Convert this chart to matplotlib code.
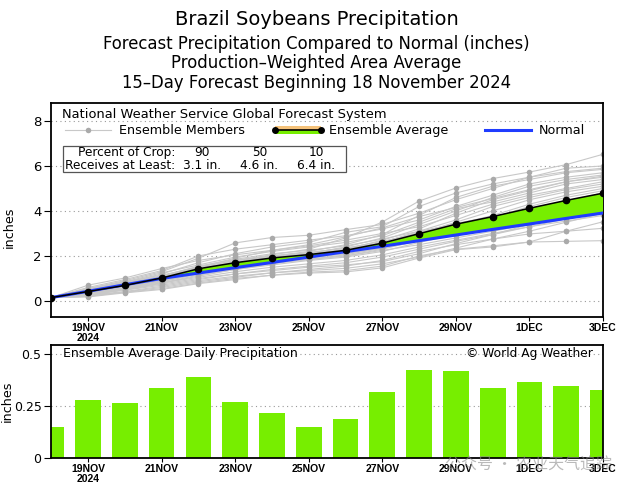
import matplotlib
matplotlib.use("Agg")
import matplotlib.pyplot as plt
import numpy as np
from matplotlib.lines import Line2D
from matplotlib.patches import Rectangle
from matplotlib.legend_handler import HandlerBase

# ---- data ----
days = list(range(16))  # 18NOV .. 3DEC
tick_days = [1, 3, 5, 7, 9, 11, 13, 15]
tick_labels = ["19NOV\n2024", "21NOV", "23NOV", "25NOV", "27NOV", "29NOV", "1DEC", "3DEC"]

ens_avg = [0.15, 0.42, 0.69, 1.02, 1.43, 1.70, 1.91, 2.06,
           2.25, 2.57, 2.99, 3.41, 3.75, 4.12, 4.47, 4.79]
normal = [0.15, 0.43, 0.72, 1.00, 1.24, 1.48, 1.71, 1.95,
          2.19, 2.43, 2.68, 2.93, 3.18, 3.42, 3.67, 3.91]
daily_avg = [0.147, 0.277, 0.265, 0.339, 0.389, 0.270, 0.217, 0.148,
             0.187, 0.319, 0.422, 0.419, 0.339, 0.366, 0.345, 0.329]

members = [
    [0.15, 0.45, 0.75, 1.10, 1.50, 1.80, 2.05, 2.30, 2.80, 3.51, 4.44, 5.02, 5.44, 5.73, 6.06, 6.52],
    [0.15, 0.55, 0.90, 1.30, 1.90, 2.58, 2.82, 2.92, 3.17, 3.40, 3.90, 4.50, 5.00, 5.50, 5.90, 6.00],
    [0.15, 0.50, 0.80, 1.20, 1.70, 2.10, 2.40, 2.60, 3.05, 3.30, 4.20, 4.80, 5.20, 5.50, 5.75, 5.90],
    [0.15, 0.40, 0.70, 1.05, 1.40, 1.75, 2.00, 2.20, 2.50, 2.95, 3.80, 4.60, 5.10, 5.40, 5.70, 5.85],
    [0.15, 0.60, 0.95, 1.35, 2.00, 2.30, 2.50, 2.70, 2.90, 3.20, 3.60, 4.20, 4.70, 5.20, 5.50, 5.70],
    [0.15, 0.45, 0.72, 1.00, 1.30, 1.60, 1.90, 2.10, 2.40, 2.80, 3.40, 4.00, 4.60, 5.10, 5.40, 5.60],
    [0.15, 0.35, 0.60, 0.90, 1.25, 1.55, 1.80, 2.00, 2.30, 2.70, 3.20, 3.90, 4.50, 4.90, 5.30, 5.50],
    [0.15, 0.50, 0.85, 1.25, 1.60, 1.95, 2.20, 2.40, 2.60, 2.90, 3.50, 4.10, 4.40, 4.80, 5.20, 5.40],
    [0.15, 0.70, 1.02, 1.44, 1.80, 2.05, 2.25, 2.45, 2.70, 3.00, 3.30, 3.80, 4.30, 4.70, 5.00, 5.30],
    [0.15, 0.30, 0.55, 0.85, 1.20, 1.50, 1.70, 1.90, 2.20, 2.60, 3.10, 3.60, 4.20, 4.60, 4.95, 5.20],
    [0.15, 0.42, 0.68, 1.00, 1.45, 1.70, 1.95, 2.15, 2.35, 2.65, 3.00, 3.50, 4.00, 4.50, 4.85, 5.10],
    [0.15, 0.48, 0.78, 1.10, 1.55, 1.85, 2.10, 2.25, 2.45, 2.75, 3.10, 3.40, 3.80, 4.30, 4.70, 5.00],
    [0.15, 0.38, 0.62, 0.95, 1.35, 1.65, 1.85, 2.00, 2.20, 2.50, 2.90, 3.30, 3.70, 4.20, 4.60, 4.90],
    [0.15, 0.45, 0.75, 1.05, 1.40, 1.70, 1.92, 2.08, 2.30, 2.60, 3.05, 3.45, 3.75, 4.10, 4.45, 4.80],
    [0.15, 0.25, 0.50, 0.80, 1.10, 1.40, 1.65, 1.85, 2.05, 2.35, 2.80, 3.25, 3.60, 4.00, 4.35, 4.70],
    [0.15, 0.55, 0.85, 1.15, 1.50, 1.80, 2.00, 2.15, 2.35, 2.55, 2.85, 3.20, 3.50, 3.90, 4.25, 4.60],
    [0.15, 0.40, 0.65, 0.95, 1.30, 1.55, 1.75, 1.90, 2.10, 2.40, 2.75, 3.10, 3.45, 3.80, 4.15, 4.50],
    [0.15, 0.35, 0.58, 0.88, 1.20, 1.45, 1.70, 1.85, 2.00, 2.30, 2.70, 3.00, 3.35, 3.70, 4.05, 4.40],
    [0.15, 0.50, 0.80, 1.10, 1.45, 1.75, 1.95, 2.10, 2.25, 2.50, 2.80, 3.10, 3.30, 3.60, 3.95, 4.30],
    [0.15, 0.30, 0.52, 0.80, 1.15, 1.40, 1.60, 1.80, 1.95, 2.20, 2.60, 2.95, 3.25, 3.55, 3.90, 4.20],
    [0.15, 0.45, 0.70, 1.00, 1.35, 1.60, 1.80, 1.95, 2.10, 2.35, 2.65, 2.95, 3.20, 3.50, 3.80, 4.10],
    [0.15, 0.40, 0.62, 0.90, 1.25, 1.50, 1.70, 1.85, 2.00, 2.25, 2.50, 2.80, 3.10, 3.40, 3.70, 3.95],
    [0.15, 0.35, 0.55, 0.80, 1.05, 1.30, 1.50, 1.65, 1.80, 2.05, 2.40, 2.70, 3.00, 3.30, 3.55, 3.80],
    [0.15, 0.28, 0.48, 0.70, 0.95, 1.20, 1.40, 1.55, 1.70, 1.95, 2.30, 2.65, 2.95, 3.30, 3.65, 4.05],
    [0.15, 0.20, 0.40, 0.60, 0.85, 1.05, 1.25, 1.40, 1.55, 1.80, 2.20, 2.50, 2.75, 2.98, 3.10, 3.23],
    [0.15, 0.32, 0.50, 0.75, 1.00, 1.20, 1.35, 1.50, 1.60, 1.75, 2.10, 2.55, 2.95, 3.40, 3.85, 4.25],
    [0.15, 0.25, 0.42, 0.65, 0.90, 1.10, 1.25, 1.35, 1.45, 1.65, 1.95, 2.35, 2.75, 3.10, 3.50, 3.90],
    [0.15, 0.22, 0.38, 0.55, 0.80, 1.00, 1.14, 1.24, 1.29, 1.47, 1.91, 2.28, 2.40, 2.62, 2.65, 2.68],
    [0.15, 0.18, 0.36, 0.51, 0.77, 0.95, 1.15, 1.28, 1.35, 1.55, 2.00, 2.30, 2.45, 2.62, 3.10, 3.52],
    [0.15, 0.42, 0.72, 1.05, 1.50, 1.90, 2.25, 2.50, 2.85, 3.25, 3.75, 4.15, 4.55, 4.95, 5.30, 5.55],
]

crop_pct = ["90", "50", "10"]
crop_amt = ["3.1 in.", "4.6 in.", "6.4 in."]

GREEN = "#77ee00"
ORANGE = "#f5c27a"
LINE_GRAY = "#c8c8c8"
DOT_GRAY = "#aaaaaa"
BLUE = "#1f3cff"

plt.rcParams["font.family"] = ["DejaVu Sans"]
tick_font = {"family": ["Liberation Sans Narrow", "Liberation Sans", "DejaVu Sans"],
             "weight": "bold", "size": 7.5}


class HandlerEnsAvg(HandlerBase):
    """orange/green band with a black dotted line through the middle"""

    def create_artists(self, legend, orig_handle, xdescent, ydescent,
                       width, height, fontsize, trans):
        x0, y0 = -xdescent, -ydescent
        mid = y0 + height / 2
        top = Rectangle((x0, mid), width, height / 2, facecolor=ORANGE,
                        edgecolor="none", transform=trans)
        bot = Rectangle((x0, y0), width, height / 2, facecolor=GREEN,
                        edgecolor="none", transform=trans)
        line = Line2D([x0, x0 + width], [mid, mid], color="black", lw=1.2,
                      marker="o", ms=4, transform=trans)
        return [top, bot, line]


fig = plt.figure(figsize=(6.33, 4.92), dpi=100)
ax = fig.add_axes([0.081, 0.3563, 0.8716, 0.4344])
ax2 = fig.add_axes([0.081, 0.0697, 0.8716, 0.2297])

# titles
fig.text(0.5, 0.961, "Brazil Soybeans Precipitation", ha="center", va="center", fontsize=14)
fig.text(0.5, 0.9106, "Forecast Precipitation Compared to Normal (inches)", ha="center", va="center", fontsize=11.9)
fig.text(0.5, 0.872, "Production\u2013Weighted Area Average", ha="center", va="center", fontsize=11.9)
fig.text(0.5, 0.831, "15\u2013Day Forecast Beginning 18 November 2024", ha="center", va="center", fontsize=11.9)

# ---- top panel: cumulative precipitation ----
for m in members:
    ax.plot(days, m, color=LINE_GRAY, lw=0.8, marker="o", ms=4, mfc=DOT_GRAY, mec="none", zorder=2)

ens = np.array(ens_avg)
nrm = np.array(normal)
ax.fill_between(days, nrm, ens, where=ens >= nrm, interpolate=True, color=GREEN, lw=0, zorder=3)
ax.fill_between(days, nrm, ens, where=ens < nrm, interpolate=True, color=ORANGE, lw=0, zorder=3)
ax.plot(days, normal, color=BLUE, lw=2.2, zorder=4)
ax.plot(days, ens_avg, color="black", lw=1.1, marker="o", ms=4.5, zorder=5)

ax.set_xlim(0, 15)
ax.set_ylim(-0.7, 8.8)
ax.set_yticks([0, 2, 4, 6, 8])
ax.grid(axis="y", color="#999999", linestyle=(0, (1, 3)), lw=0.8)
ax.set_xticks(tick_days)
ax.set_xticklabels(tick_labels, fontdict=tick_font, linespacing=0.95)
ax.tick_params(axis="y", labelsize=9.5, length=5, direction="out", pad=2)
ax.tick_params(axis="x", length=3, direction="out", pad=1.5)
ax.set_ylabel("inches", fontsize=9.2)
ax.yaxis.set_label_coords(-0.064, 0.42)
for s in ax.spines.values():
    s.set_linewidth(1.3)

# legend
ax.text(0.0195, 0.944, "National Weather Service Global Forecast System",
        transform=ax.transAxes, ha="left", va="center", fontsize=9.4)
leg_kw = dict(loc="center left", frameon=False, fontsize=9.2, borderpad=0,
              borderaxespad=0, handlelength=3.6, handletextpad=0.6)
h_mem = Line2D([], [], color=LINE_GRAY, lw=0.8, marker="o", ms=4, mfc=DOT_GRAY, mec="none")
h_avg = Line2D([], [], color="black")
h_nrm = Line2D([], [], color=BLUE, lw=2.2)
leg1 = ax.legend([h_mem], ["Ensemble Members"], bbox_to_anchor=(0.025, 0.869), **leg_kw)
ax.add_artist(leg1)
leg2 = ax.legend([h_avg], ["Ensemble Average"], bbox_to_anchor=(0.406, 0.869),
                 handler_map={h_avg: HandlerEnsAvg()}, **leg_kw)
ax.add_artist(leg2)
ax.legend([h_nrm], ["Normal"], bbox_to_anchor=(0.787, 0.869), **leg_kw)

# percent of crop box
ax.add_patch(Rectangle((0.0207, 0.676), 0.514, 0.124, transform=ax.transAxes,
                       facecolor="white", edgecolor="#555555", lw=0.9, zorder=6))
ax.text(0.2245, 0.767, "Percent of Crop:", transform=ax.transAxes, ha="right", va="center", fontsize=8.7, zorder=7)
ax.text(0.2245, 0.708, "Receives at Least:", transform=ax.transAxes, ha="right", va="center", fontsize=8.7, zorder=7)
for cx, pct, amt in zip([0.2735, 0.377, 0.480], crop_pct, crop_amt):
    ax.text(cx, 0.767, pct, transform=ax.transAxes, ha="center", va="center", fontsize=8.7, zorder=7)
    ax.text(cx, 0.708, amt, transform=ax.transAxes, ha="center", va="center", fontsize=8.7, zorder=7)

# ---- bottom panel: daily precipitation ----
ax2.bar(days, daily_avg, width=0.7, color=GREEN, edgecolor="none", zorder=2)
ax2.set_xlim(0, 15)
ax2.set_ylim(0, 0.546)
ax2.set_yticks([0, 0.25, 0.5])
ax2.set_yticklabels(["0", "0.25", "0.5"])
ax2.grid(axis="y", color="#999999", linestyle=(0, (1, 3)), lw=0.8)
ax2.set_xticks(tick_days)
ax2.set_xticklabels(tick_labels, fontdict=tick_font, linespacing=0.95)
ax2.tick_params(axis="y", labelsize=9, length=5, direction="out", pad=2)
ax2.tick_params(axis="x", length=3, direction="out", pad=1.5)
ax2.set_ylabel("inches", fontsize=9.2)
ax2.yaxis.set_label_coords(-0.068, 0.5)
for s in ax2.spines.values():
    s.set_linewidth(1.3)
ax2.text(0.021, 0.918, "Ensemble Average Daily Precipitation", transform=ax2.transAxes,
         ha="left", va="center", fontsize=9)
ax2.text(0.981, 0.918, "\u00a9 World Ag Weather", transform=ax2.transAxes,
         ha="right", va="center", fontsize=8.8)

# watermark
fig.text(0.967, 0.055, "公众号 · 农业天气追踪", ha="right", va="center", fontsize=11.5,
         color="#8c8c8c", alpha=0.6, family=["Noto Sans CJK SC", "DejaVu Sans"])

fig.savefig("out.png", dpi=100)
